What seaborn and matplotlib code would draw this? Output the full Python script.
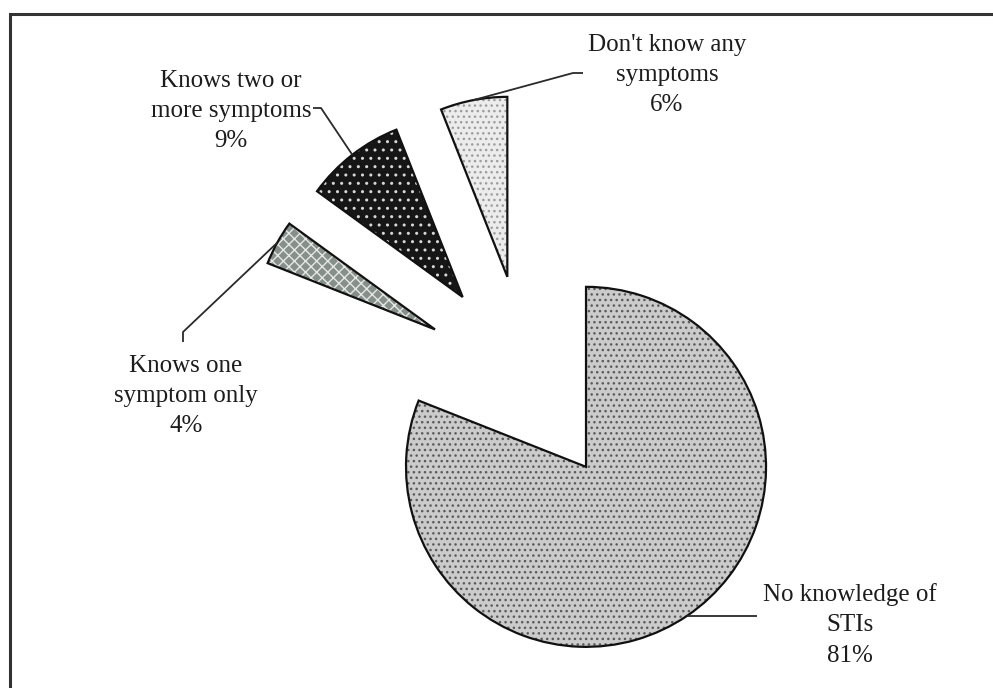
import matplotlib
matplotlib.use("Agg")
import matplotlib.pyplot as plt
import seaborn as sns
import numpy as np

# Knowledge of STI symptoms
categories = ["No knowledge of\nSTIs", "Knows one\nsymptom only",
              "Knows two or\nmore symptoms", "Don't know any\nsymptoms"]
shares = [81, 4, 9, 6]

sns.set_style("white")
plt.rcParams["font.family"] = ["Liberation Serif", "DejaVu Serif"]

W, H = 993, 688
fig = plt.figure(figsize=(W / 100, H / 100), dpi=100)
ax = fig.add_axes([0, 0, 1, 1])


def py(y):
    """Convert a top-down pixel row into the axes' y coordinate."""
    return H - y


base_colors = ["#cbcbcb", "#86908a", "#161616", "#ececec"]
hatch_colors = ["#5a5a5a", "#e6e6e6", "#d8d8d8", "#9c9c9c"]
hatches = ["...", "xxx", "..", "..."]

pie_kw = dict(startangle=90, counterclock=False, radius=180,
              center=(527, py(380)), explode=[105] * len(shares))

# filled, patterned wedges
wedges, _ = ax.pie(shares, colors=base_colors,
                   wedgeprops=dict(linewidth=0), **pie_kw)
for w, hc, h in zip(wedges, hatch_colors, hatches):
    w.set_edgecolor(hc)
    w.set_hatch(h)

# crisp outlines on top
outlines, _ = ax.pie(shares, wedgeprops=dict(fill=False, edgecolor="#111111",
                                              linewidth=1.6), **pie_kw)

ax.set_xlim(0, W)
ax.set_ylim(0, H)
ax.set_aspect("equal")
ax.axis("off")

pct = [f"{v}%" for v in shares]
label_pos = [(850, 625), (186, 396), (231, 111), (667, 75)]
for cat, p, (lx, ly) in zip(categories, pct, label_pos):
    ax.text(lx, py(ly), f"{cat}\n{p}", ha="center", va="center",
            fontsize=18, color="#1c1c1c", linespacing=1.48)


def arc_mid(w):
    t = np.deg2rad(0.5 * (w.theta1 + w.theta2))
    cx, cy = w.center
    return cx + w.r * np.cos(t), cy + w.r * np.sin(t)


# leader lines: label elbow -> outer arc midpoint
elbows = [None, [(183, 342), (183, 332)], [(313, 108), (321, 108)],
          [(583, 73), (573, 73)]]
for w, el in zip(outlines, elbows):
    mx, my = arc_mid(w)
    if el is None:
        xs, ys = [mx, 757], [my, my]
    else:
        xs = [p[0] for p in el] + [mx]
        ys = [py(p[1]) for p in el] + [my]
    ax.plot(xs, ys, color="#2a2a2a", lw=1.3, solid_capstyle="butt")

# partial frame along the top and left
ax.plot([10, 10, W], [0, py(14), py(14)], color="#333333", lw=2.2,
        solid_joinstyle="miter")

fig.savefig("out.png", dpi=100, facecolor="white")
